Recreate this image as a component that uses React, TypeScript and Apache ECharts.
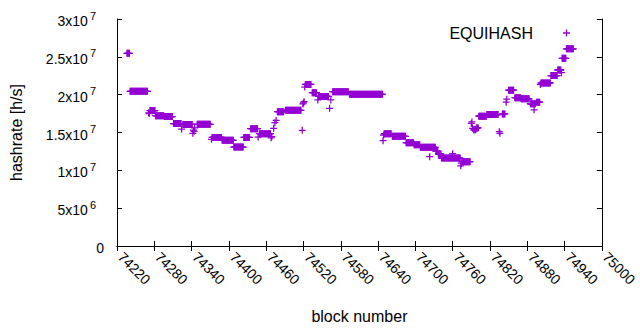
import React, { useEffect, useRef } from "react";
import * as echarts from "echarts";

// Runs of consecutive blocks sharing one hashrate (values in 10^6 h/s)
const runFrom = [74236, 74241, 74273, 74282, 74296, 74311, 74326, 74349, 74373, 74389, 74408, 74424, 74435, 74449, 74478, 74491, 74523, 74534, 74544, 74567, 74594, 74650, 74663, 74685, 74698, 74708, 74733, 74737, 74742, 74775, 74794, 74798, 74802, 74815, 74840, 74850, 74860, 74870, 74885, 74895, 74902, 74918, 74929, 74936, 74943];
const runTo = [74240, 74269, 74281, 74295, 74309, 74323, 74341, 74370, 74388, 74407, 74423, 74433, 74446, 74467, 74488, 74516, 74532, 74541, 74560, 74592, 74647, 74661, 74684, 74697, 74707, 74732, 74736, 74741, 74772, 74788, 74797, 74801, 74814, 74833, 74844, 74858, 74869, 74883, 74893, 74900, 74917, 74928, 74934, 74942, 74954];
const runHash = [25.47, 20.45, 17.9, 17.22, 17.1, 16.18, 16.06, 16.08, 14.34, 13.97, 13.08, 14.34, 15.5, 14.85, 17.75, 17.93, 21.35, 20.26, 19.76, 20.39, 20.05, 14.85, 14.5, 13.65, 13.39, 13.04, 12.5, 12.16, 11.62, 11.15, 15.35, 15.6, 17.15, 17.37, 17.45, 20.6, 19.6, 19.45, 18.8, 19.0, 21.55, 22.53, 23.26, 24.8, 26.06];

// Single blocks off the runs (values in 10^6 h/s)
const extraBlock = [74271, 74272, 74324, 74342, 74343, 74344, 74345, 74372, 74447, 74468, 74469, 74472, 74474, 74476, 74518, 74519, 74520, 74521, 74522, 74543, 74562, 74564, 74648, 74649, 74723, 74760, 74773, 74774, 74790, 74791, 74792, 74835, 74836, 74846, 74847, 74891, 74901, 74935];
const extraHash = [17.6, 17.5, 15.45, 14.9, 15.3, 15.15, 15.6, 14.1, 14.4, 14.3, 14.45, 15.55, 16.3, 16.6, 15.29, 18.77, 18.9, 19.07, 21.0, 19.3, 18.2, 19.3, 13.92, 14.67, 11.8, 12.2, 10.6, 10.95, 16.2, 16.4, 15.55, 15.1, 14.9, 19.0, 19.4, 18.0, 21.35, 22.9];

const SERIES_NAME = "EQUIHASH";
const COLOR = "#9400d3";
const FONT = "'Liberation Sans', Arial, sans-serif";
const PLUS = "path://M4.1,0H5.9V4.1H10V5.9H5.9V10H4.1V5.9H0V4.1H4.1Z";

function buildPoints(): number[][] {
  const pts: number[][] = [];
  for (let i = 0; i < runFrom.length; i++) {
    for (let b = runFrom[i]; b <= runTo[i]; b++) pts.push([b, runHash[i] * 1e6]);
  }
  for (let i = 0; i < extraBlock.length; i++) pts.push([extraBlock[i], extraHash[i] * 1e6]);
  return pts;
}

function yLabel(v: number): string {
  if (v === 0) return "{base|0}";
  const exp = Math.floor(Math.log10(v) + 1e-9);
  const m = Math.round((v / Math.pow(10, exp)) * 100) / 100;
  return `{base|${m}x10}{sp| }{sup|${exp}}{pad| }`;
}

export default function App() {
  const ref = useRef<HTMLDivElement>(null);
  useEffect(() => {
    if (!ref.current) return;
    document.body.style.margin = "0";
    const chart = echarts.init(ref.current, undefined, { renderer: "svg" });
    const axisLine = { show: true, lineStyle: { color: "#000", width: 1 } };
    const tick = { show: true, inside: true, length: 5, lineStyle: { color: "#000", width: 1 } };
    const xCommon = { type: "value" as const, min: 74220, max: 75000, interval: 60, splitLine: { show: false }, axisLine, axisTick: tick };
    const yCommon = { type: "value" as const, min: 0, max: 3e7, interval: 5e6, splitLine: { show: false }, axisLine, axisTick: tick };
    chart.setOption({
      animation: false,
      backgroundColor: "#fff",
      textStyle: { fontFamily: FONT },
      grid: { left: 114, right: 31, top: 19, bottom: 84, show: false },
      legend: {
        show: true,
        right: 65,
        top: 20,
        align: "right",
        itemWidth: 7,
        itemHeight: 7,
        data: [{ name: SERIES_NAME, icon: PLUS, itemStyle: { color: COLOR } }],
        textStyle: { fontSize: 16, color: "#000", fontFamily: FONT, padding: [0, 25, 0, 0] },
      },
      xAxis: [
        {
          ...xCommon,
          position: "bottom",
          name: "block number",
          nameLocation: "middle",
          nameGap: 62,
          nameTextStyle: { fontSize: 16, color: "#000", fontFamily: FONT },
          axisLabel: { show: true, rotate: -45, margin: 5, padding: [0, 0, 0, 5], fontSize: 14, color: "#000", fontFamily: FONT, formatter: (v: number) => String(v) },
        },
        { ...xCommon, position: "top", axisLabel: { show: false } },
      ],
      yAxis: [
        {
          ...yCommon,
          position: "left",
          name: "hashrate [h/s]",
          nameLocation: "middle",
          nameGap: 93,
          nameTextStyle: { fontSize: 16, color: "#000", fontFamily: FONT },
          axisLabel: {
            show: true,
            margin: 13,
            color: "#000",
            fontFamily: FONT,
            formatter: yLabel,
            rich: {
              base: { fontSize: 14, color: "#000", fontFamily: FONT, verticalAlign: "bottom", padding: [4, 0, 0, 0] },
              sp: { fontSize: 11, width: 2, color: "#000", fontFamily: FONT },
              sup: { fontSize: 11, color: "#000", fontFamily: FONT, verticalAlign: "top" },
              pad: { fontSize: 11, width: 8, color: "#000", fontFamily: FONT },
            },
          },
        },
        { ...yCommon, position: "right", axisLabel: { show: false } },
      ],
      series: [
        {
          name: SERIES_NAME,
          type: "scatter",
          xAxisIndex: 0,
          yAxisIndex: 0,
          symbol: PLUS,
          symbolSize: 7,
          itemStyle: { color: COLOR, opacity: 1 },
          emphasis: { disabled: true },
          data: buildPoints(),
        },
      ],
    });
    return () => chart.dispose();
  }, []);
  return <div ref={ref} style={{ width: 640, height: 330, position: "absolute", left: 0, top: 0 }} />;
}
